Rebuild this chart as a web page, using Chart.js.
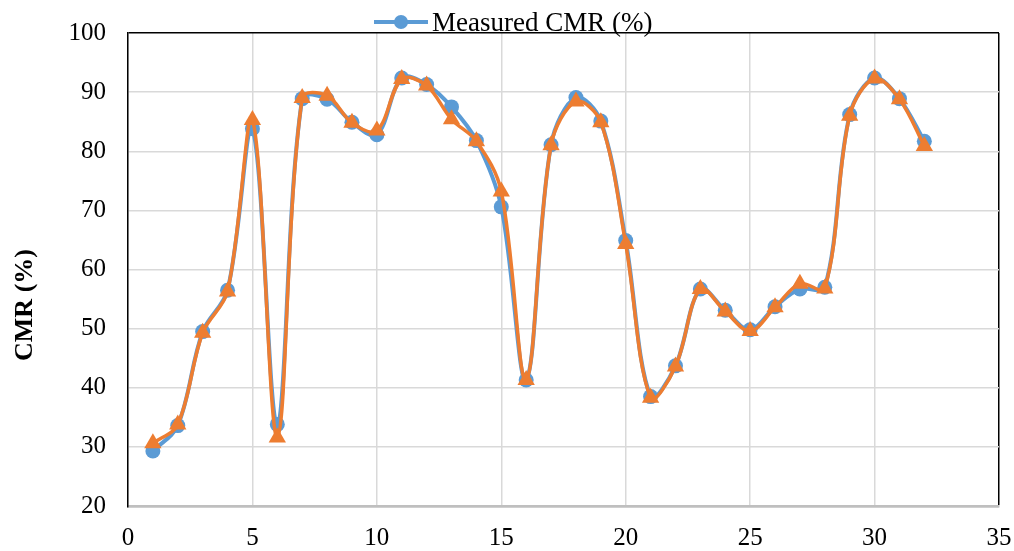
<!DOCTYPE html>
<html>
<head>
<meta charset="utf-8">
<script src="https://cdn.jsdelivr.net/npm/chart.js@4.4.1/dist/chart.umd.min.js"></script>
<style>
  html, body { margin: 0; padding: 0; background: #fff; }
  #wrap { width: 1014px; height: 551px; }
</style>
</head>
<body>
<div id="wrap"><canvas id="chart"></canvas></div>
<script>
const runs = [1, 2, 3, 4, 5, 6, 7, 8, 9, 10, 11, 12, 13, 14, 15, 16,
  17, 18, 19, 20, 21, 22, 23, 24, 25, 26, 27, 28, 29, 30, 31, 32];
const measuredCmr = [29.3, 33.6, 49.5, 56.5, 83.8, 33.8, 88.9, 88.8, 84.9, 82.8, 92.4, 91.3,
  87.5, 81.8, 70.6, 41.3, 81.1, 89.1, 85.1, 64.9, 38.5, 43.7, 56.7, 53.1, 49.8, 53.7,
  56.7, 57.0, 86.2, 92.4, 88.9, 81.7];
const predictedCmr = [30.6, 33.8, 49.3, 56.3, 85.3, 31.6, 89.0, 89.4, 84.8, 83.5, 92.2, 91.1,
  85.4, 81.7, 73.2, 41.3, 81.0, 88.4, 84.9, 64.3, 38.3, 43.6, 56.7, 52.9, 49.6, 53.6,
  57.6, 56.8, 86.0, 92.3, 88.8, 80.9];
const xTicks = [0, 5, 10, 15, 20, 25, 30, 35];
const yTicks = [20, 30, 40, 50, 60, 70, 80, 90, 100];

const BLUE = "#5B9BD5";
const ORANGE = "#ED7D31";
const FONT = "'Liberation Serif', 'Times New Roman', serif";

Chart.defaults.font.family = FONT;
Chart.defaults.color = "#000";

// axis title and the one-entry legend, drawn straight on the canvas
const extras = {
  id: "extras",
  afterDraw(chart) {
    const { ctx } = chart;
    ctx.save();
    ctx.translate(25, 305);
    ctx.rotate(-Math.PI / 2);
    ctx.font = "bold 26px " + FONT;
    ctx.fillStyle = "#000";
    ctx.textAlign = "center";
    ctx.textBaseline = "middle";
    ctx.fillText("CMR (%)", 0, 0);
    ctx.restore();

    ctx.save();
    ctx.strokeStyle = BLUE;
    ctx.lineWidth = 4;
    ctx.beginPath();
    ctx.moveTo(374, 22);
    ctx.lineTo(428, 22);
    ctx.stroke();
    ctx.fillStyle = BLUE;
    ctx.beginPath();
    ctx.arc(401, 22, 7, 0, Math.PI * 2);
    ctx.fill();
    ctx.font = "27px " + FONT;
    ctx.fillStyle = "#000";
    ctx.textBaseline = "alphabetic";
    ctx.fillText("Measured CMR (%)", 432, 31);
    ctx.restore();
  }
};

new Chart(document.getElementById("chart"), {
  type: "line",
  data: {
    datasets: [
      {
        label: "Measured CMR (%)",
        data: runs.map((x, i) => ({ x, y: measuredCmr[i] })),
        borderColor: BLUE,
        backgroundColor: BLUE,
        borderWidth: 4,
        pointStyle: "circle",
        pointRadius: 7.5,
        pointBorderWidth: 0,
        tension: 0.35,
        order: 1,
      },
      {
        label: "Predicted CMR (%)",
        data: runs.map((x, i) => ({ x, y: predictedCmr[i] })),
        borderColor: ORANGE,
        backgroundColor: ORANGE,
        borderWidth: 3.5,
        pointStyle: "triangle",
        pointRadius: 10,
        pointBorderWidth: 0,
        tension: 0.35,
        order: 0,
      },
    ],
  },
  options: {
    responsive: true,
    maintainAspectRatio: false,
    animation: false,
    layout: { padding: { top: 33, left: 28, right: 15, bottom: 0 } },
    plugins: {
      legend: { display: false },
      tooltip: { enabled: false },
    },
    scales: {
      x: {
        type: "linear",
        min: 0,
        max: 35,
        afterBuildTicks: (s) => { s.ticks = xTicks.map((v) => ({ value: v })); },
        afterFit: (s) => {
          s.height = 45;
          s.paddingLeft = 0;
          s.paddingRight = 0;
        },
        ticks: { font: { size: 25 }, padding: 17, maxRotation: 0 },
        grid: {
          drawTicks: false,
          lineWidth: 1.5,
          color: (c) => (c.tick && c.tick.value === 35 ? "#000" : "#d9d9d9"),
        },
        border: { color: "#bfbfbf", width: 2.5 },
      },
      y: {
        min: 20,
        max: 100,
        afterBuildTicks: (s) => { s.ticks = yTicks.map((v) => ({ value: v })); },
        afterFit: (s) => {
          s.width = 100;
          s.paddingTop = 0;
          s.paddingBottom = 0;
        },
        ticks: { font: { size: 25 }, padding: 22 },
        grid: {
          drawTicks: false,
          lineWidth: (c) => (c.tick && c.tick.value === 20 ? 2.5 : 1.5),
          color: (c) => {
            const v = c.tick && c.tick.value;
            if (v === 100) return "#000";
            if (v === 20) return "#bfbfbf";
            return "#d9d9d9";
          },
        },
        border: { color: "#000", width: 1.5 },
      },
    },
  },
  plugins: [extras],
});
</script>
</body>
</html>
